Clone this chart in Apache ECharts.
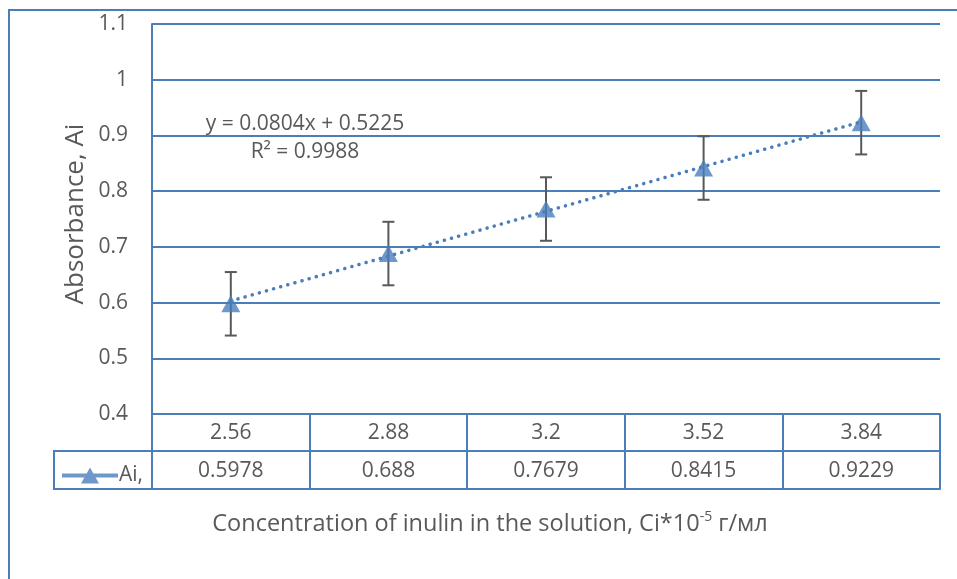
<!DOCTYPE html>
<html>
<head>
<meta charset="utf-8">
<script src="https://cdn.jsdelivr.net/npm/echarts@6/dist/echarts.min.js"></script>
<style>
html,body{margin:0;padding:0;background:#fff;}
#chart{width:957px;height:579px;}
</style>
</head>
<body>
<div id="chart"></div>
<script>
// ---- data ----
const categories = ['2.56', '2.88', '3.2', '3.52', '3.84'];
const absorbance = [0.5978, 0.688, 0.7679, 0.8415, 0.9229];
const errorBars = [0.057, 0.057, 0.057, 0.057, 0.057];
const valueLabels = ['0.5978', '0.688', '0.7679', '0.8415', '0.9229'];
const trendEnds = [0.6029, 0.9245];           // linear trendline at first and last category
const equationText = 'y = 0.0804x + 0.5225';
const r2Text = 'R² = 0.9988';
const seriesName = 'Ai,';
const xTitle = 'Concentration of inulin in the solution, Ci*10{sup|-5} г/мл';
const yTitle = 'Absorbance, Ai';
const yMin = 0.4, yMax = 1.1, yStep = 0.1;

const BLUE = '#4A7EBB';
const GREY = '#595959';
const FONT = 'Open Sans';
const FS = 21;

const chart = echarts.init(document.getElementById('chart'), null, {renderer: 'canvas'});

const option = {
  animation: false,
  backgroundColor: '#fff',
  textStyle: {fontFamily: FONT, color: GREY},
  grid: {left: 152, right: 17, top: 24, bottom: 165, containLabel: false},
  legend: {
    data: [{name: seriesName}],
    left: 57, top: 460,
    itemWidth: 56, itemHeight: 16, itemGap: 0,
    icon: 'path://M0,6 L56,6 L56,10 L0,10 Z M19,16 L28,0 L37,16 Z',
    textStyle: {fontFamily: FONT, fontSize: FS, color: GREY, padding: [0, 0, 0, -4]},
    selectedMode: false
  },
  xAxis: [
    {
      type: 'category', data: categories, position: 'bottom',
      axisLine: {show: true, lineStyle: {color: BLUE, width: 2}},
      axisTick: {show: true, length: 75, interval: 0, lineStyle: {color: BLUE, width: 2}},
      axisLabel: {margin: 9, fontSize: FS, color: GREY, fontFamily: FONT},
      splitLine: {show: false}
    },
    {
      type: 'category', data: valueLabels, position: 'bottom', offset: 37,
      axisLine: {show: true, lineStyle: {color: BLUE, width: 2}},
      axisTick: {show: false},
      axisLabel: {margin: 10, fontSize: FS, color: GREY, fontFamily: FONT},
      splitLine: {show: false}
    },
    {
      type: 'category', data: categories, position: 'bottom', offset: 75,
      axisLine: {show: true, lineStyle: {color: BLUE, width: 2}},
      axisTick: {show: false},
      axisLabel: {show: false},
      splitLine: {show: false}
    }
  ],
  yAxis: {
    type: 'value', min: yMin, max: yMax, interval: yStep,
    axisLine: {show: true, lineStyle: {color: BLUE, width: 2}},
    axisTick: {show: false},
    axisLabel: {margin: 24, fontSize: FS, color: GREY, fontFamily: FONT,
      formatter: v => String(Math.round(v * 10) / 10)},
    splitLine: {show: true, lineStyle: {color: BLUE, width: 2}}
  },
  series: [
    {
      name: 'errors', type: 'custom', z: 2,
      data: absorbance.map((v, i) => [i, v, errorBars[i]]),
      renderItem: function (params, api) {
        const i = api.value(0), v = api.value(1), e = api.value(2);
        const top = api.coord([i, v + e]);
        const bot = api.coord([i, v - e]);
        const h = 6;
        const st = {stroke: GREY, lineWidth: 2};
        return {type: 'group', children: [
          {type: 'line', shape: {x1: top[0], y1: top[1], x2: bot[0], y2: bot[1]}, style: st},
          {type: 'line', shape: {x1: top[0] - h, y1: top[1], x2: top[0] + h, y2: top[1]}, style: st},
          {type: 'line', shape: {x1: bot[0] - h, y1: bot[1], x2: bot[0] + h, y2: bot[1]}, style: st}
        ]};
      },
      silent: true
    },
    {
      name: 'trend', type: 'line', z: 3,
      data: [[0, trendEnds[0]], [categories.length - 1, trendEnds[1]]],
      symbol: 'none',
      lineStyle: {color: BLUE, width: 3.5, type: [0.1, 7.3], cap: 'round'},
      silent: true
    },
    {
      name: seriesName, type: 'scatter', z: 4,
      data: absorbance,
      symbol: 'triangle', symbolSize: [19, 17],
      itemStyle: {color: BLUE}
    }
  ],
  graphic: [
    {type: 'polyline', shape: {points: [[9, 579], [9, 10], [957, 10]]}, style: {stroke: BLUE, lineWidth: 2, fill: null}, silent: true},
    {type: 'rect', shape: {x: 54, y: 451, width: 98, height: 38}, style: {stroke: BLUE, lineWidth: 2, fill: null}, silent: true, z: -1},
    {type: 'text', x: 305, y: 124, style: {text: equationText, fontSize: FS, fontFamily: FONT, fill: GREY, textAlign: 'center', textVerticalAlign: 'middle'}},
    {type: 'text', x: 305, y: 152, style: {text: r2Text, fontSize: FS, fontFamily: FONT, fill: GREY, textAlign: 'center', textVerticalAlign: 'middle'}},
    {type: 'text', x: 76, y: 214, rotation: Math.PI / 2,
      style: {text: yTitle, fontSize: 26, fontFamily: FONT, fill: GREY, textAlign: 'center', textVerticalAlign: 'middle'}},
    {type: 'text', x: 490, y: 524,
      style: {text: xTitle, fontSize: 23.5, fontFamily: FONT, fill: GREY, textAlign: 'center', textVerticalAlign: 'middle', lineHeight: 28,
        rich: {sup: {fontSize: 14, fill: GREY, fontFamily: FONT, verticalAlign: 'top', lineHeight: 28, padding: [0, 0, 12, 0]}}}}
  ]
};
chart.setOption(option);
</script>
</body>
</html>
